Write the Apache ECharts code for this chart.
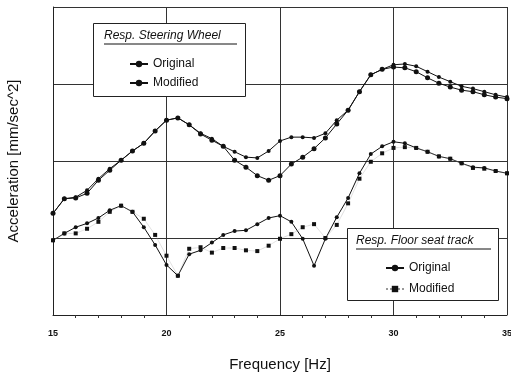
<!DOCTYPE html>
<html>
<head>
<meta charset="utf-8">
<script src="https://cdn.jsdelivr.net/npm/echarts@6/dist/echarts.min.js"></script>
<style>
  html, body { margin: 0; padding: 0; background: #fff; }
  #chart { width: 511px; height: 378px; }
</style>
</head>
<body>
<div id="chart"></div>
<script>
// frequency steps (Hz)
const freq = [];
for (let f = 15; f <= 35.001; f += 0.5) freq.push(+f.toFixed(1));

// Resp. Steering Wheel
const swOriginal = [
  1.32, 1.51, 1.53, 1.62, 1.77, 1.90, 2.01, 2.13, 2.23, 2.39,
  2.53, 2.56, 2.47, 2.36, 2.29, 2.19, 2.12, 2.05, 2.04, 2.13,
  2.26, 2.31, 2.31, 2.30, 2.36, 2.53, 2.66, 2.90, 3.12, 3.19,
  3.25, 3.26, 3.23, 3.16, 3.09, 3.03, 2.97, 2.94, 2.90, 2.86,
  2.83
];
const swModified = [
  1.32, 1.51, 1.52, 1.58, 1.75, 1.88, 2.01, 2.13, 2.23, 2.39,
  2.53, 2.56, 2.47, 2.35, 2.27, 2.19, 2.01, 1.92, 1.81, 1.75,
  1.81, 1.96, 2.05, 2.16, 2.30, 2.48, 2.66, 2.90, 3.12, 3.19,
  3.22, 3.21, 3.16, 3.08, 3.01, 2.96, 2.92, 2.90, 2.86, 2.83,
  2.81
];
// Resp. Floor seat track
const fsOriginal = [
  0.97, 1.06, 1.14, 1.19, 1.26, 1.36, 1.42, 1.34, 1.14, 0.91,
  0.65, 0.51, 0.79, 0.84, 0.94, 1.04, 1.09, 1.10, 1.18, 1.26,
  1.29, 1.21, 0.99, 0.64, 0.99, 1.27, 1.52, 1.84, 2.09, 2.19,
  2.25, 2.23, 2.17, 2.12, 2.06, 2.03, 1.97, 1.92, 1.91, 1.87,
  1.84
];
const fsModified = [
  0.97, 1.06, 1.06, 1.12, 1.21, 1.34, 1.42, 1.34, 1.25, 1.04,
  0.77, 0.51, 0.86, 0.88, 0.81, 0.87, 0.87, 0.84, 0.83, 0.90,
  0.99, 1.05, 1.14, 1.18, 1.00, 1.17, 1.45, 1.77, 1.99, 2.10,
  2.17, 2.18, 2.17, 2.12, 2.06, 2.03, 1.97, 1.91, 1.90, 1.87,
  1.84
];

const xTicks = [15, 20, 25, 30, 35];

const pairs = (ys) => freq.map((f, i) => [f, ys[i]]);
const font = "'Liberation Sans', Arial, sans-serif";

const chart = echarts.init(document.getElementById("chart"), null, { renderer: "canvas" });

const option = {
  animation: false,
  backgroundColor: "#fff",
  grid: { left: 53, right: 4, top: 7, bottom: 63, outerBoundsMode: "none" },
  xAxis: {
    type: "value",
    min: xTicks[0],
    max: xTicks[xTicks.length - 1],
    interval: 5,
    name: "Frequency [Hz]",
    nameLocation: "middle",
    nameGap: 42,
    nameTextStyle: { fontFamily: font, fontSize: 15, color: "#111" },
    axisLine: { lineStyle: { color: "#222", width: 1 } },
    axisTick: { show: false },
    minorTick: { show: true, splitNumber: 5, length: 3, lineStyle: { color: "#333" } },
    axisLabel: {
      fontFamily: font, fontSize: 9, fontWeight: "bold", color: "#111", margin: 14,
    },
    splitLine: { show: true, lineStyle: { color: "#333", width: 1 } },
  },
  yAxis: {
    type: "value",
    min: 0,
    max: 4,
    interval: 1,
    name: "Acceleration [mm/sec^2]",
    nameLocation: "middle",
    nameGap: 32,
    nameTextStyle: { fontFamily: font, fontSize: 15, color: "#111" },
    axisLine: { show: true, lineStyle: { color: "#222", width: 1 } },
    axisTick: { show: false },
    axisLabel: { show: false },
    splitLine: { show: true, lineStyle: { color: "#333", width: 1 } },
  },
  legend: [
    {
      orient: "vertical",
      left: 124,
      top: 53,
      z: 60,
      itemGap: 7,
      itemWidth: 18,
      itemHeight: 8,
      data: ["SW Original", "SW Modified"],
      formatter: (n) => n.replace("SW ", ""),
      textStyle: { fontFamily: font, fontSize: 12, color: "#111" },
    },
    {
      orient: "vertical",
      left: 380,
      top: 257,
      z: 60,
      itemGap: 9,
      itemWidth: 18,
      itemHeight: 8,
      data: ["FS Original", "FS Modified"],
      formatter: (n) => n.replace("FS ", ""),
      textStyle: { fontFamily: font, fontSize: 12, color: "#111" },
    },
  ],
  graphic: [
    {
      type: "rect", left: 93, top: 23, z: 50,
      shape: { width: 152, height: 73 },
      style: { fill: "#fff", stroke: "#222", lineWidth: 1 },
    },
    {
      type: "text", left: 104, top: 30, z: 51,
      style: {
        text: "Resp. Steering Wheel", fontFamily: font, fontSize: 12,
        fontStyle: "italic", fill: "#111",
      },
    },
    {
      type: "line", z: 51,
      shape: { x1: 104, y1: 44, x2: 237, y2: 44 },
      style: { stroke: "#111", lineWidth: 1 },
    },
    {
      type: "rect", left: 347, top: 228, z: 50,
      shape: { width: 151, height: 72 },
      style: { fill: "#fff", stroke: "#222", lineWidth: 1 },
    },
    {
      type: "text", left: 356, top: 235, z: 51,
      style: {
        text: "Resp. Floor seat track", fontFamily: font, fontSize: 12,
        fontStyle: "italic", fill: "#111",
      },
    },
    {
      type: "line", z: 51,
      shape: { x1: 356, y1: 249, x2: 491, y2: 249 },
      style: { stroke: "#111", lineWidth: 1 },
    },
  ],
  series: [
    {
      name: "SW Original", type: "line", data: pairs(swOriginal),
      symbol: "circle", symbolSize: 4,
      lineStyle: { color: "#111", width: 1 },
      itemStyle: { color: "#111" },
    },
    {
      name: "SW Modified", type: "line", data: pairs(swModified),
      symbol: "circle", symbolSize: 5,
      lineStyle: { color: "#111", width: 1 },
      itemStyle: { color: "#111" },
    },
    {
      name: "FS Original", type: "line", data: pairs(fsOriginal),
      symbol: "circle", symbolSize: 4,
      lineStyle: { color: "#111", width: 1 },
      itemStyle: { color: "#111" },
    },
    {
      name: "FS Modified", type: "line", data: pairs(fsModified),
      symbol: "rect", symbolSize: 4,
      lineStyle: { color: "#999", width: 0.6, type: "dotted" },
      itemStyle: { color: "#111" },
    },
  ],
};

chart.setOption(option);
</script>
</body>
</html>
